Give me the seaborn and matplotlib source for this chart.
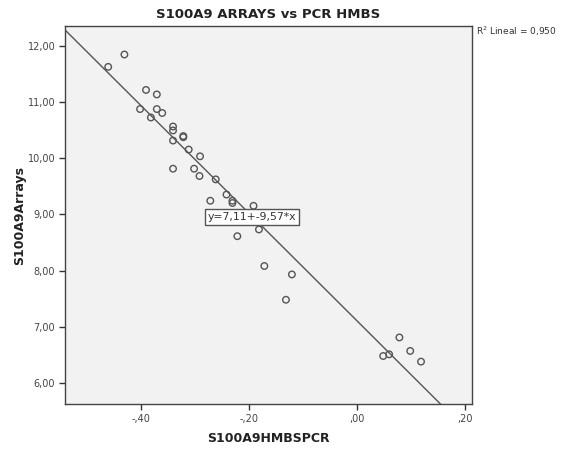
import matplotlib
matplotlib.use("Agg")
import matplotlib.pyplot as plt
import seaborn as sns
import pandas as pd

# ---- data ----
hmbs_pcr = [-0.460, -0.430, -0.390, -0.370, -0.401, -0.370, -0.360, -0.381,
            -0.340, -0.340, -0.321, -0.321, -0.340, -0.311, -0.290, -0.340,
            -0.301, -0.291, -0.261, -0.241, -0.230, -0.230, -0.271, -0.191,
            -0.181, -0.221, -0.171, -0.120, -0.131, 0.079, 0.099, 0.119,
            0.049, 0.060]
arrays = [11.62, 11.84, 11.21, 11.13, 10.87, 10.87, 10.80, 10.72,
          10.56, 10.49, 10.39, 10.37, 10.31, 10.15, 10.03, 9.81,
          9.81, 9.68, 9.62, 9.35, 9.24, 9.20, 9.24, 9.15,
          8.73, 8.61, 8.08, 7.93, 7.48, 6.81, 6.57, 6.38,
          6.48, 6.51]
fit_intercept = 7.11
fit_slope = -9.57
r2_text = "R$^2$ Lineal = 0,950"
eq_text = "y=7,11+-9,57*x"

x_ticks = [-0.40, -0.20, 0.00, 0.20]
x_tick_labels = ["-,40", "-,20", ",00", ",20"]
y_ticks = [6, 7, 8, 9, 10, 11, 12]
y_tick_labels = ["6,00", "7,00", "8,00", "9,00", "10,00", "11,00", "12,00"]

title = "S100A9 ARRAYS vs PCR HMBS"
x_label = "S100A9HMBSPCR"
y_label = "S100A9Arrays"

df = pd.DataFrame({"x": hmbs_pcr, "y": arrays})

sns.set_style("white")
plt.rcParams["font.family"] = ["DejaVu Sans"]

fig = plt.figure(figsize=(5.75, 4.5), dpi=100)
ax = fig.add_axes([0.113, 0.102, 0.708, 0.840])
ax.set_facecolor("#f2f2f2")

sns.scatterplot(data=df, x="x", y="y", ax=ax, marker="o", s=22,
                facecolors="none", edgecolor="#555555", linewidth=1.0)

ax.axline((0, fit_intercept), slope=fit_slope, color="#555555", lw=1.0, zorder=1)

ax.set_xlim(-0.540, 0.2135)
ax.set_ylim(5.625, 12.345)

ax.set_xticks(x_ticks)
ax.set_xticklabels(x_tick_labels)
ax.set_yticks(y_ticks)
ax.set_yticklabels(y_tick_labels)
ax.tick_params(axis="both", which="both", direction="out", length=4, width=1,
               color="#333333", labelsize=7, labelcolor="#444444",
               bottom=True, left=True, top=False, right=False, pad=3)

for s in ax.spines.values():
    s.set_color("#444444")
    s.set_linewidth(1.0)
    s.set_visible(True)

ax.set_xlabel(x_label, fontsize=9, fontweight="bold", color="#222222", labelpad=6)
ax.set_ylabel(y_label, fontsize=9, fontweight="bold", color="#222222", labelpad=1)
ax.set_title(title, fontsize=9.5, fontweight="bold", color="#222222", pad=6)

ax.text(-0.194, 8.95, eq_text, fontsize=7.8, color="#333333", ha="center", va="center",
        bbox=dict(boxstyle="square,pad=0.25", facecolor="white", edgecolor="#555555", lw=1.0),
        zorder=5)

fig.text(0.827, 0.931, r2_text, fontsize=6.5, color="#333333", ha="left", va="center")

fig.savefig("out.png", dpi=100, facecolor="white")
